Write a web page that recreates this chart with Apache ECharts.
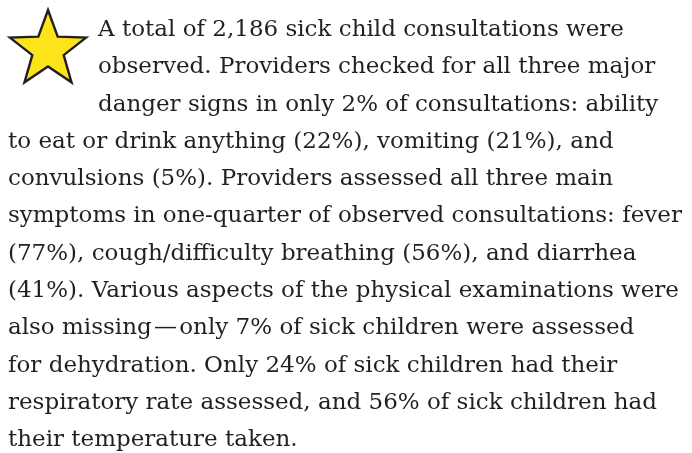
<!DOCTYPE html>
<html>
<head>
<meta charset="utf-8">
<script src="https://cdn.jsdelivr.net/npm/echarts@6/dist/echarts.min.js"></script>
<style>
	html, body { margin: 0; padding: 0; background: #fff; }
	#main { width: 692px; height: 453px; }
</style>
</head>
<body>
<div id="main"></div>
<script>
// 文本框: 星形图标 + 段落文字.
;(function(){
	// 段落文字, 每行一条.
	var textLines = [
		'A total of 2,186 sick child consultations were',
		'observed. Providers checked for all three major',
		'danger signs in only 2% of consultations: ability',
		'to eat or drink anything (22%), vomiting (21%), and',
		'convulsions (5%). Providers assessed all three main',
		'symptoms in one-quarter of observed consultations: fever',
		'(77%), cough/difficulty breathing (56%), and diarrhea',
		'(41%). Various aspects of the physical examinations were',
		'also missing\u200a\u2014\u200aonly 7% of sick children were assessed',
		'for dehydration. Only 24% of sick children had their',
		'respiratory rate assessed, and 56% of sick children had',
		'their temperature taken.'
	];
	// 前几行缩进 (给星形让位)
	var indentedLines = 3;

	var chartDom = document.getElementById('main');
	var myChart = echarts.init(chartDom);

	var lineHeight = 37.3;
	var firstY = 30;
	var leftX = 8;
	var indentX = 98;

	// 五角星的顶点
	var starPoints = function(cx, cy, rOut, rIn) {
		var pts = [];
		for (var i = 0; i < 10; i++) {
			var r = i % 2 === 0 ? rOut : rIn;
			var a = -Math.PI / 2 + i * Math.PI / 5;
			pts.push([cx + r * Math.cos(a), cy + r * Math.sin(a)]);
		}
		return pts;
	};

	var elements = [];
	elements.push({
		type: 'polygon',
		shape: { points: starPoints(48, 50, 40, 16.5) },
		style: { fill: '#FDE31A', stroke: '#231F20', lineWidth: 2.4, lineJoin: 'miter' }
	});

	textLines.forEach(function(line, i) {
		elements.push({
			type: 'text',
			x: i < indentedLines ? indentX : leftX,
			y: firstY + i * lineHeight,
			style: {
				text: line,
				fill: '#231F20',
				font: '23px "DejaVu Serif", "Liberation Serif", serif',
				textVerticalAlign: 'middle',
				verticalAlign: 'middle'
			}
		});
	});

	var option = {
		backgroundColor: '#ffffff',
		animation: false,
		graphic: { elements: elements }
	};
	option && myChart.setOption(option);
})();
</script>
</body>
</html>
